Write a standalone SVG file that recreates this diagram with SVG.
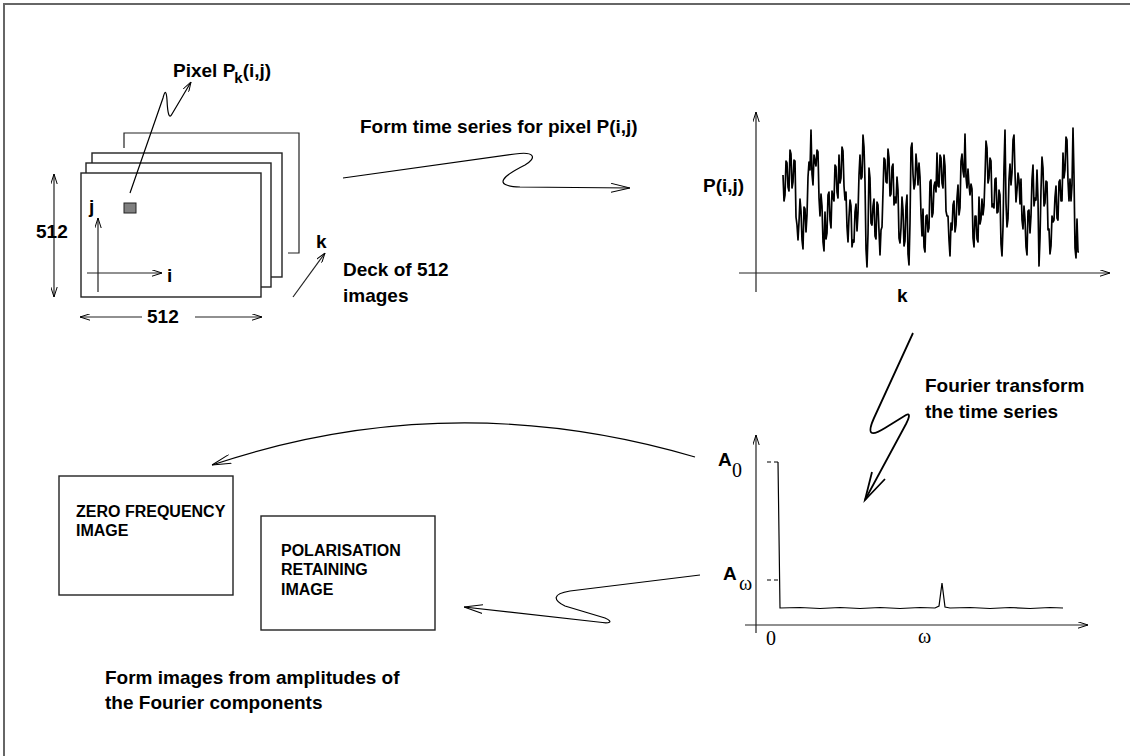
<svg xmlns="http://www.w3.org/2000/svg" width="1130" height="756" viewBox="0 0 1130 756">
<style>
.t{font-family:"Liberation Sans",Arial,sans-serif;font-weight:bold;font-size:19px;fill:#000}
.bt{font-family:"Liberation Sans",Arial,sans-serif;font-weight:bold;font-size:16px;fill:#000}
.s{font-family:"Liberation Serif","Times New Roman",serif;font-size:20px;fill:#000}
.ln{fill:none;stroke:#222;stroke-width:1.2}
.fr{fill:#fff;stroke:#222;stroke-width:1.4}
.cn{fill:none;stroke:#000;stroke-width:1.2}
</style>
<defs>
<marker id="a" viewBox="0 0 10 7" refX="10" refY="3.5" markerWidth="10" markerHeight="7" orient="auto-start-reverse" markerUnits="userSpaceOnUse"><path d="M0,0.3 L10,3.5 L0,6.7" fill="none" stroke="#000" stroke-width="1"/></marker>
<marker id="b" viewBox="0 0 19 10" refX="19" refY="5" markerWidth="19" markerHeight="10" orient="auto" markerUnits="userSpaceOnUse"><path d="M0,0.5 L19,5 L0,9.5" fill="none" stroke="#000" stroke-width="1"/></marker>
</defs>
<rect width="1130" height="756" fill="#fff"/>
<path d="M4,756 L4,4 L1130,4" fill="none" stroke="#666" stroke-width="2"/>

<g id="deck">
<path class="ln" d="M124,148 L124,133 L299,133 L299,253 L288,253"/>
<rect class="fr" x="92" y="153" width="190" height="124"/>
<rect class="fr" x="86" y="163" width="185" height="124"/>
<rect class="fr" x="81" y="173" width="180" height="124"/>
<rect x="124" y="203" width="12" height="10" fill="#808080" stroke="#222" stroke-width="1"/>
<line class="ln" x1="98" y1="292" x2="98" y2="218" marker-end="url(#a)"/>
<line class="ln" x1="87" y1="273" x2="162" y2="273" marker-end="url(#a)"/>
<text class="t" x="89" y="213">j</text>
<text class="t" x="167" y="282">i</text>
<line class="ln" x1="54" y1="174" x2="54" y2="297" marker-start="url(#a)" marker-end="url(#a)"/>
<text class="t" x="36" y="238">512</text>
<line class="ln" x1="80" y1="317" x2="142" y2="317" marker-start="url(#a)"/>
<line class="ln" x1="195" y1="317" x2="262" y2="317" marker-end="url(#a)"/>
<text class="t" x="147" y="323">512</text>
<line class="ln" x1="293" y1="297" x2="325" y2="253" marker-end="url(#a)"/>
<text class="t" x="316" y="248">k</text>
<text class="t" x="343" y="276">Deck of 512</text>
<text class="t" x="343" y="302">images</text>
<text class="t" x="173" y="77">Pixel P<tspan font-size="15" dx="-1" dy="6">k</tspan><tspan dy="-6">(i,j)</tspan></text>
</g>

<g id="timeseries">
<line class="ln" x1="756" y1="292" x2="756" y2="112" marker-end="url(#a)"/>
<line class="ln" x1="739" y1="273" x2="1110" y2="273" marker-end="url(#a)"/>
<text class="t" x="703" y="192">P(i,j)</text>
<text class="t" x="897" y="302">k</text>
<polyline fill="none" stroke="#000" stroke-width="1.7" stroke-linejoin="round" points="783,175 784,201 785,195 786,161 787,163 788,187 789,191 790,150 791,154 792,188 793,182 794,160 795,161 796,217 797,225 798,240 799,222 800,199 801,211 802,240 803,249 804,207 805,209 806,232 807,215 808,177 809,162 810,170 811,130 812,174 813,185 814,155 815,161 816,166 817,150 818,152 819,198 820,216 821,194 822,206 823,242 824,251 825,212 826,239 827,233 828,195 829,192 830,220 831,228 832,191 833,197 834,201 835,165 836,167 837,192 838,198 839,155 840,183 841,178 842,147 843,151 844,186 845,200 846,192 847,227 848,242 849,217 850,200 851,206 852,247 853,240 854,242 855,212 856,204 857,231 858,213 859,175 860,155 861,179 862,177 863,135 864,147 865,182 866,249 867,267 868,234 869,168 870,178 871,223 872,225 873,206 874,199 875,236 876,239 877,202 878,205 879,231 880,255 881,230 882,227 883,192 884,158 885,160 886,182 887,183 888,149 889,158 890,196 891,194 892,167 893,164 894,205 895,197 896,203 897,177 898,190 899,238 900,243 901,228 902,197 903,210 904,246 905,241 906,206 907,195 908,254 909,265 910,223 911,148 912,143 913,174 914,189 915,184 916,154 917,167 918,185 919,163 920,177 921,214 922,236 923,209 924,247 925,252 926,216 927,215 928,232 929,228 930,182 931,180 932,217 933,213 934,186 935,182 936,192 937,153 938,186 939,187 940,155 941,158 942,183 943,188 944,155 945,166 946,211 947,216 948,216 949,240 950,256 951,223 952,230 953,205 954,201 955,232 956,225 957,198 958,185 959,215 960,208 961,161 962,154 963,171 964,177 965,134 966,177 967,188 968,169 969,185 970,195 971,184 972,189 973,238 974,247 975,216 976,216 977,239 978,242 979,197 980,224 981,219 982,199 983,215 984,206 985,177 986,141 987,148 988,183 989,178 990,158 991,161 992,207 993,204 994,208 995,179 996,178 997,213 998,212 999,190 1000,195 1001,244 1002,256 1003,227 1004,167 1005,130 1006,203 1007,227 1008,219 1009,179 1010,164 1011,185 1012,173 1013,140 1014,135 1015,173 1016,202 1017,190 1018,173 1019,180 1020,204 1021,179 1022,220 1023,229 1024,206 1025,219 1026,247 1027,255 1028,211 1029,210 1030,233 1031,216 1032,179 1033,165 1034,206 1035,198 1036,200 1037,170 1038,200 1039,266 1040,238 1041,190 1042,157 1043,168 1044,206 1045,203 1046,181 1047,182 1048,230 1049,229 1050,254 1051,246 1052,216 1053,222 1054,220 1055,197 1056,186 1057,218 1058,220 1059,182 1060,180 1061,201 1062,201 1063,153 1064,178 1065,170 1066,137 1067,140 1068,181 1069,201 1070,179 1071,201 1072,185 1073,128 1074,176 1075,248 1076,258 1077,219 1078,252 1079,252"/>
</g>

<g id="spectrum">
<line class="ln" x1="756" y1="633" x2="756" y2="435" marker-end="url(#a)"/>
<line class="ln" x1="745" y1="625" x2="1088" y2="625" marker-end="url(#a)"/>
<path d="M767,462 L771,462 M774,462 L778,462 M767,580 L771,580 M774,580 L778,580" stroke="#000" stroke-width="1"/>
<path fill="none" stroke="#000" stroke-width="1.2" d="M778,462 L780,608 L800,607.5 L820,608.5 L840,607.5 L860,608.5 L880,607.5 L900,608.5 L920,607.5 L935,608 L939,606 L942,583 L945,607 L950,608 L970,607.5 L990,608.5 L1010,607.5 L1030,608.5 L1050,607.5 L1063,608"/>
<text class="t" font-size="17" x="718" y="466">A</text>
<text class="s" x="732" y="477">0</text>
<text class="t" font-size="17" x="723" y="580">A</text>
<text class="s" x="739" y="590">ω</text>
<text class="s" x="766" y="645">0</text>
<text class="s" x="918" y="643">ω</text>
</g>

<g id="fourier-label">
<text class="t" x="925" y="392">Fourier transform</text>
<text class="t" x="925" y="418">the time series</text>
</g>

<g id="zero-box">
<rect class="fr" x="59" y="476" width="174" height="119"/>
<text class="bt" x="76" y="517">ZERO FREQUENCY</text>
<text class="bt" x="76" y="536">IMAGE</text>
</g>

<g id="pol-box">
<rect class="fr" x="261" y="516" width="174" height="114"/>
<text class="bt" x="281" y="556">POLARISATION</text>
<text class="bt" x="281" y="575">RETAINING</text>
<text class="bt" x="281" y="595">IMAGE</text>
</g>

<g id="top-label">
<text class="t" x="360" y="133">Form time series for pixel P(i,j)</text>
</g>
<g id="bottom-label">
<text class="t" x="105" y="684">Form images from amplitudes of</text>
<text class="t" x="105" y="709">the Fourier components</text>
</g>

<g id="connectors">
<path class="cn" d="M130,193 L163,98 Q166,86 167,100 Q168,122 172,114 L191,82" marker-end="url(#a)"/>
<path class="cn" d="M343,178 L515,154 C535,151 537,158 525,165 C505,175 490,186 520,187 L630,188" marker-end="url(#b)"/>
<path fill="none" stroke="#000" stroke-width="1.8" d="M913,333 L874,418 C866,436 872,436 885,428 L906,415 C910,413 910,416 906,424 L865,500"/>
<path fill="none" stroke="#000" stroke-width="1.8" d="M872,472 L865,500 L885,479"/>
<path class="cn" d="M695,457 Q450,385 212,465" marker-end="url(#b)"/>
<path class="cn" d="M700,575 L570,591 C552,594 553,600 565,606 L605,618 C614,622 610,624 598,622 L464,607" marker-end="url(#b)"/>
</g>
</svg>
